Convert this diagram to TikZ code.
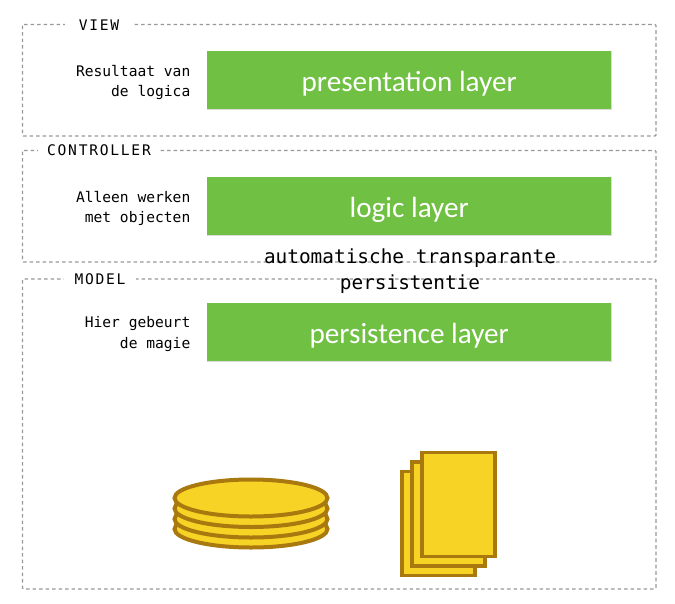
\documentclass[tikz,border=0pt]{standalone}
\usepackage{fontspec}
\setmainfont{Carlito}
\setmonofont{DejaVu Sans Mono}
\newfontfamily\spacedmono[LetterSpace=12]{DejaVu Sans Mono}
\usetikzlibrary{shapes.geometric}
\definecolor{layergreen}{HTML}{70C043}
\definecolor{framegray}{HTML}{989898}
\definecolor{goldfill}{HTML}{F7D325}
\definecolor{goldline}{HTML}{A9780F}
\newcommand{\layertext}[1]{\raisebox{-11pt}[0pt][0pt]{#1}}
\tikzset{
  x=1pt,y=-1pt,
  frame/.style={draw=framegray,line width=1.3pt,dash pattern=on 3.6pt off 2.9pt,rounded corners=1pt},
  layer/.style={fill=layergreen,text=white,anchor=north west,minimum width=404pt,minimum height=58pt,inner sep=0pt,
    font=\fontsize{29.2}{32}\selectfont},
  layershadow/.style={fill=black!14,anchor=north west,minimum width=405pt,minimum height=59pt,inner sep=0pt},
  note/.style={font=\ttfamily\fontsize{14.6}{20.6}\selectfont,align=right,anchor=east,inner sep=0pt},
  tag/.style={fill=white,font=\spacedmono\fontsize{14.6}{16}\selectfont,inner sep=0pt,anchor=center},
  center/.style={font=\ttfamily\fontsize{19.4}{26}\selectfont,align=center,inner sep=0pt,anchor=center},
  coin/.style={shape=ellipse,draw=goldline,fill=goldfill,line width=4pt,minimum width=153pt,minimum height=37pt,inner sep=0pt},
  sheet/.style={draw=goldline,fill=goldfill,line width=3.6pt,anchor=north west,minimum width=73pt,minimum height=104pt,inner sep=0pt},
}
\begin{document}
\begin{tikzpicture}
\useasboundingbox (0,0) rectangle (675,603);
% frames
\draw[frame] (22.5,24.5) rectangle (656,136);
\draw[frame] (22.5,150.5) rectangle (656,262);
\draw[frame] (22.5,279) rectangle (656,589);
% frame titles
\node[tag,minimum width=68pt,minimum height=10pt,text height=10pt] (viewtag) at (99,25) {VIEW};
\node[tag,minimum width=122pt,minimum height=10pt,text height=10pt] (ctrltag) at (99,151) {CONTROLLER};
\node[tag,minimum width=72pt,minimum height=10pt,text height=10pt] (modeltag) at (100,280) {MODEL};
% layers
\node[layershadow] at (207,51) {};
\node[layershadow] at (207,177) {};
\node[layershadow] at (207,303) {};
\node[layer] (presentation) at (207,51) {\layertext{presentation layer}};
\node[layer] (logic) at (207,177) {\layertext{logic layer}};
\node[layer] (persistence) at (207,303) {\layertext{persistence layer}};
% notes
\node[note] (n1) at (190.5,82.5) {Resultaat van\\de logica};
\node[note] (n2) at (190.5,208.5) {Alleen werken\\met objecten};
\node[note] (n3) at (190.5,334) {Hier gebeurt\\de magie};
% centre text
\node[center] (auto) at (410,271.5) {automatische transparante\\persistentie};
% disks
\node[coin] (d4) at (251,529) {};
\node[coin] (d3) at (251,519) {};
\node[coin] (d2) at (251,508.5) {};
\node[coin] (d1) at (251,498) {};
% sheets
\node[sheet] (s3) at (400,469.5) {};
\node[sheet] (s2) at (410,460) {};
\node[sheet] (s1) at (420,450.5) {};
\end{tikzpicture}
\end{document}
